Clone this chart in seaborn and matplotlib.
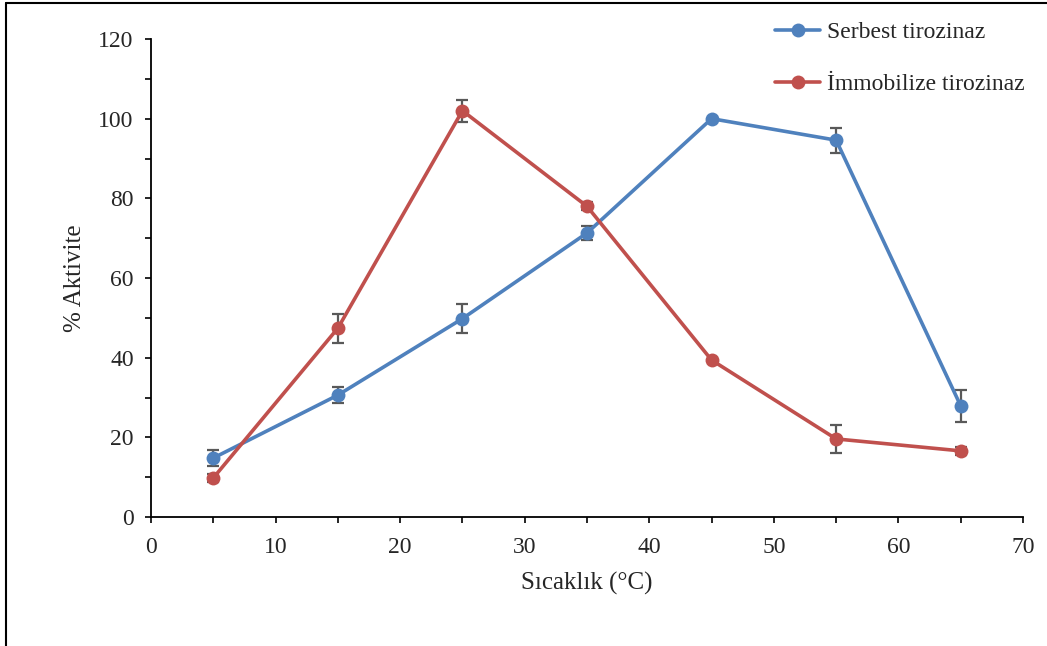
import numpy as np
import pandas as pd
import matplotlib
matplotlib.use("Agg")
import matplotlib.pyplot as plt
from matplotlib.ticker import MultipleLocator
from matplotlib.lines import Line2D
import seaborn as sns

# data
sicaklik = [5, 15, 25, 35, 45, 55, 65]
serbest = [14.8, 30.6, 49.8, 71.3, 100.0, 94.6, 27.9]
serbest_err = [1.9, 2.1, 3.6, 1.7, 0.0, 3.1, 4.1]
immobilize = [9.8, 47.4, 102.0, 78.0, 39.4, 19.6, 16.6]
immobilize_err = [1.0, 3.6, 2.8, 1.0, 0.0, 3.6, 1.0]

labels = ["Serbest tirozinaz", "İmmobilize tirozinaz"]
colors = ["#4F81BD", "#C0504D"]

df = pd.DataFrame({
    "x": sicaklik * 2,
    "y": serbest + immobilize,
    "grup": [labels[0]] * len(sicaklik) + [labels[1]] * len(sicaklik),
})

sns.set_style("white")
plt.rcParams["font.family"] = ["Liberation Serif", "DejaVu Serif"]
plt.rcParams["font.size"] = 17

fig = plt.figure(figsize=(10.47, 6.46), dpi=100)
ax = fig.add_axes([151 / 1047, 1 - 517 / 646, (1023 - 151) / 1047, (517 - 39) / 646])

# error bars behind the lines
for y, e in [(serbest, serbest_err), (immobilize, immobilize_err)]:
    ax.errorbar(sicaklik, y, yerr=e, fmt="none", ecolor="#595959",
                elinewidth=1.6, capsize=4, capthick=1.6, zorder=1)

sns.lineplot(data=df, x="x", y="y", hue="grup", palette=colors, marker="o",
             markersize=10, markeredgewidth=0, linewidth=2.6, legend=False,
             ax=ax, zorder=2)

ax.set_xlim(0, 70)
ax.set_ylim(0, 120)
ax.xaxis.set_major_locator(MultipleLocator(10))
ax.xaxis.set_minor_locator(MultipleLocator(5))
ax.yaxis.set_major_locator(MultipleLocator(20))
ax.yaxis.set_minor_locator(MultipleLocator(10))
ax.tick_params(axis="both", which="both", direction="out", length=4.5,
               width=1.2, color="black", labelsize=17)
ax.tick_params(axis="y", which="major", pad=8)
ax.tick_params(axis="x", which="major", pad=10)
ax.tick_params(which="both", bottom=True, left=True)
for s in ["top", "right"]:
    ax.spines[s].set_visible(False)
for s in ["left", "bottom"]:
    ax.spines[s].set_color("black")
    ax.spines[s].set_linewidth(1.3)

ax.set_xlabel("Sıcaklık (°C)", fontsize=18, labelpad=10)
ax.set_ylabel("% Aktivite", fontsize=18, labelpad=9)

handles = [Line2D([0], [0], color=c, lw=2.6, marker="o", markersize=10,
                  markeredgewidth=0) for c in colors]
fig.legend(handles, labels, loc="upper left",
           bbox_to_anchor=(766 / 1047, 1 - 12 / 646), frameon=False,
           fontsize=17, handlelength=1.9, handletextpad=0.3,
           labelspacing=1.3, borderaxespad=0)

# outer frame (top and left edges visible in the reference)
fig.add_artist(Line2D([6 / 1047, 6 / 1047], [0, 1 - 3 / 646],
                      transform=fig.transFigure, color="black", lw=1.5))
fig.add_artist(Line2D([6 / 1047, 1], [1 - 3 / 646, 1 - 3 / 646],
                      transform=fig.transFigure, color="black", lw=1.5))

fig.savefig("out.png", dpi=100)
